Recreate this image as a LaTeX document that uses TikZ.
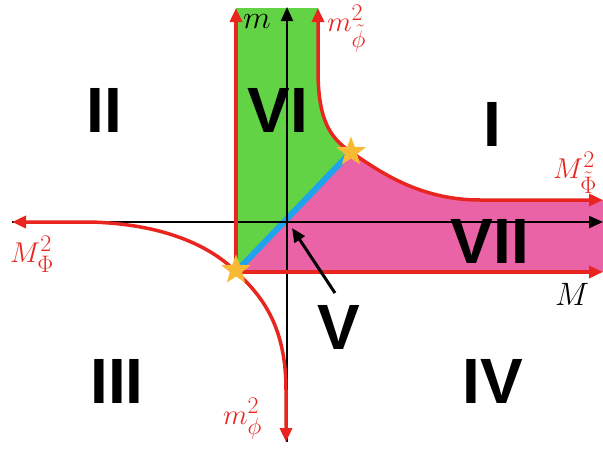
\RequirePackage{fix-cm}
\documentclass[tikz,border=0pt]{standalone}
\usepackage{fontspec}
\newfontfamily\romanfont{Liberation Sans}
\usepackage{amsmath}
\usetikzlibrary{shapes.geometric,arrows.meta,positioning}
\definecolor{RegGreen}{HTML}{63D346}
\definecolor{RegPink}{HTML}{EB63A7}
\definecolor{CurveRed}{HTML}{E8261F}
\definecolor{LineBlue}{HTML}{1FA3EC}
\definecolor{StarGold}{HTML}{F8B935}
\newcommand{\redlbl}[1]{\scalebox{1.15}{#1}}
\newcommand{\axlbl}[1]{\scalebox{1.3}{#1}}

\begin{document}
\begin{tikzpicture}[x=1pt,y=-1pt,
    >={Triangle[length=14pt,width=12pt]},
    axis/.style={black, line width=2pt},
    bound/.style={CurveRed, line width=3.5pt},
    region/.style={font=\romanfont\bfseries\fontsize{64}{64}\selectfont,
                   anchor=base, inner sep=0pt},
    lbl/.style={font=\fontsize{24.88}{30}\selectfont, anchor=base west, inner sep=0pt},
    corner/.style={star, star points=5, star point ratio=2.4, fill=StarGold,
                   minimum size=31pt, inner sep=0pt}]
    \useasboundingbox (0,0) rectangle (603,448);

    % key points
    \coordinate (O) at (287,222);
    \coordinate (lo) at (236,272);
    \coordinate (hi) at (351,152);
    \coordinate (Vtail) at (335,293);
    \coordinate (Vtip) at (292,228);

    % shaded regions
    \fill[RegGreen] (236,8) -- (318,8) -- (318,70)
        .. controls (318,120) and (330,138) .. (hi) -- (lo) -- cycle;
    \fill[RegPink] (lo) -- (hi) .. controls (380,172) and (420,200) .. (480,200)
        -- (603,200) -- (603,272) -- cycle;
    \draw[LineBlue, line width=6pt] (lo) -- (hi);

    % axes
    \draw[axis,->] (12,222) -- (603,222);
    \draw[axis,->] (287,442) -- (287,7);

    % boundaries
    \draw[bound,<->] (236,8) -- (lo) -- (603,272);
    \draw[bound,<->] (318,8) -- (318,70)
        .. controls (318,120) and (330,138) .. (hi)
        .. controls (380,172) and (420,200) .. (480,200) -- (603,200);
    \draw[bound,<->] (12,222) -- (90,222)
        .. controls (170,224) and (215,250) .. (lo)
        .. controls (265,298) and (286,330) .. (286,390) -- (286,442);

    \node[corner] (starhi) at (hi) {};
    \node[corner] (starlo) at (236,270) {};

    % region numbers
    \node[region] (rII) at (104,132) {II};
    \node[region] (rVI) at (278,132) {VI};
    \node[region] (rI) at (492,146) {I};
    \node[region] (rVII) at (490,263) {VII};
    \node[region] (rV) at (339,349) {V};
    \node[region] (rIII) at (117,403) {III};
    \node[region] (rIV) at (493,403) {IV};
    \draw[black, line width=3pt, ->] (Vtail) -- (Vtip);

    % axis labels
    \node[lbl] (mlab) at (243,28) {\axlbl{$m$}};
    \node[lbl, CurveRed] (mtphi) at (327,31) {\redlbl{$m^2_{\tilde\phi}$}};
    \node[lbl, CurveRed] (MtPhi) at (553,178) {\redlbl{$M^2_{\tilde\Phi}$}};
    \node[lbl, CurveRed] (MPhi) at (10,262) {\redlbl{$M^2_{\Phi}$}};
    \node[lbl] (Mlab) at (555,305) {\axlbl{$M$}};
    \node[lbl, CurveRed] (mphi) at (223,424) {\redlbl{$m^2_{\phi}$}};
\end{tikzpicture}
\end{document}
